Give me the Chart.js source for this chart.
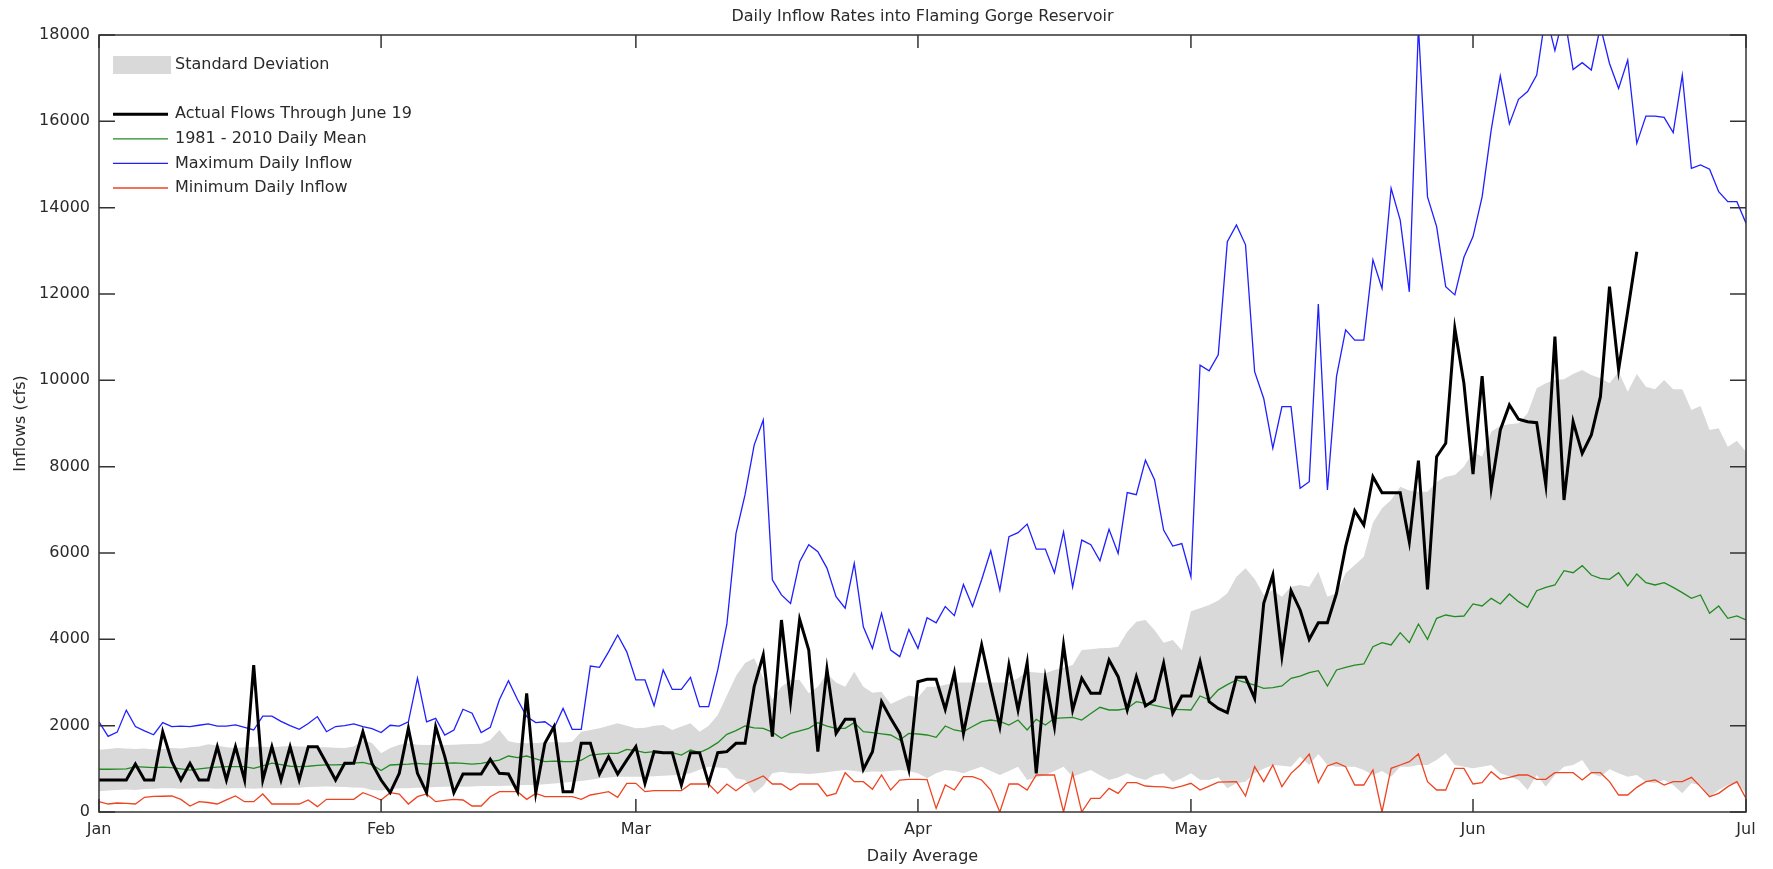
<!DOCTYPE html>
<html>
<head>
<title>Daily Inflow Rates into Flaming Gorge Reservoir</title>
<script src="https://cdn.jsdelivr.net/npm/chart.js@4.4.1/dist/chart.umd.min.js"></script>
<style>
    html, body { margin: 0; padding: 0; background: #fff; }
    canvas { display: block; }
</style>
</head>
<body>
<canvas id="inflow" width="1773" height="869"></canvas>
<script>
// x axis: day of year counted from Jan 1, one tick per month start
const monthStarts = [0, 31, 59, 90, 120, 151, 181];
const monthNames = ['Jan', 'Feb', 'Mar', 'Apr', 'May', 'Jun', 'Jul'];

// Actual daily inflow (cfs), Jan 1 through June 19
const actualFlow = [
    741, 741, 741, 741, 1112, 741, 741, 1861, 1170, 741, 1127, 741, 741, 1513, 741, 1513, 741, 3405, 741, 1513, 741, 1513, 741, 1513, 1513, 1130, 741, 1127, 1127, 1861, 1127,
    741, 448, 896, 1938, 896, 448, 1977, 1282, 448, 880, 880, 880, 1220, 896, 880, 471, 2749, 448, 1591, 1977, 471, 471, 1591, 1591, 880, 1282, 880, 1200,
    1513, 664, 1398, 1375, 1375, 625, 1375, 1375, 664, 1375, 1398, 1591, 1591, 2903, 3637, 1745, 4448, 2556, 4463, 3753, 1398, 3305, 1822, 2147, 2147, 988, 1398, 2556, 2170, 1822, 988,
    3019, 3073, 3073, 2378, 3228, 1822, 2850, 3869, 2900, 1977, 3405, 2363, 3459, 896, 3097, 1977, 3869, 2363, 3097, 2749, 2749, 3521, 3135, 2363, 3135, 2456, 2595, 3444, 2286, 2687,
    2687, 3483, 2556, 2400, 2301, 3120, 3120, 2633, 4834, 5490, 3614, 5127, 4680, 4000, 4386, 4386, 5066, 6147, 6981, 6649, 7768, 7398, 7398, 7398, 6262, 8139, 5158, 8232, 8541, 11205, 9930,
    7830, 10100, 7498, 8850, 9430, 9100, 9040, 9020, 7575, 11012, 7228, 9042, 8309, 8734, 9622, 12170, 10250, 11600, 12981
];

// 1981 - 2010 daily mean
const dailyMean = [
    990, 990, 995, 1000, 1050, 1040, 1030, 1040, 1030, 1000, 970, 1000, 1020, 1040, 1050, 1050, 1050, 1010, 1070, 1130, 1100, 1060, 1050, 1060, 1080, 1090, 1090, 1100, 1130, 1150, 1100,
    960, 1089, 1100, 1110, 1127, 1110, 1127, 1127, 1140, 1127, 1110, 1127, 1166, 1200, 1297, 1260, 1297, 1230, 1166, 1180, 1170, 1166, 1200, 1320, 1340, 1359, 1360, 1452,
    1420, 1375, 1398, 1375, 1375, 1320, 1436, 1375, 1475, 1606, 1800, 1884, 1992, 1950, 1938, 1850, 1707, 1822, 1880, 1938, 2070, 1992, 1938, 1938, 2070, 1861, 1838, 1810, 1784, 1668, 1822,
    1807, 1784, 1730, 1992, 1900, 1861, 1980, 2093, 2131, 2100, 2015, 2131, 1900, 2147, 2015, 2170, 2180, 2193, 2131, 2280, 2425, 2363, 2363, 2400, 2556, 2517, 2470, 2425, 2378, 2370,
    2363, 2687, 2600, 2830, 2950, 3058, 3000, 2942, 2865, 2880, 2919, 3097, 3150, 3228, 3274, 2919, 3290, 3350, 3405, 3429, 3830, 3923, 3869, 4154, 3923, 4355, 4000, 4486, 4564, 4525, 4540,
    4819, 4772, 4950, 4819, 5050, 4873, 4741, 5127, 5205, 5259, 5591, 5544, 5707, 5490, 5413, 5390, 5544, 5236, 5514, 5313, 5259, 5313, 5205, 5081, 4950, 5027, 4602, 4772, 4486, 4541,
    4448
];

// Maximum daily inflow on record
const maxInflow = [
    2090, 1750, 1850, 2360, 1980, 1880, 1790, 2070, 1980, 1990, 1980, 2010, 2040, 1990, 1990, 2020, 1960, 1900, 2220, 2220, 2100, 2000, 1915, 2050, 2210, 1860, 1980, 2000, 2040, 1980, 1930,
    1840, 2010, 1990, 2090, 3100, 2090, 2170, 1780, 1900, 2380, 2290, 1840, 1960, 2600, 3040, 2600, 2210, 2070, 2090, 1940, 2400, 1915, 1915, 3380, 3350, 3710, 4100, 3710,
    3060, 3060, 2460, 3290, 2840, 2840, 3120, 2440, 2440, 3290, 4350, 6450, 7350, 8500, 9080, 5380, 5030, 4830, 5800, 6190, 6030, 5650, 4990, 4720, 5760, 4290, 3790, 4600, 3750, 3600, 4230,
    3790, 4500, 4380, 4760, 4550, 5270, 4760, 5380, 6050, 5140, 6380, 6470, 6670, 6090, 6090, 5540, 6490, 5210, 6300, 6190, 5820, 6550, 5990, 7400, 7350, 8150, 7700, 6530, 6160, 6220,
    5450, 10350, 10220, 10590, 13210, 13600, 13140, 10200, 9580, 8430, 9390, 9390, 7500, 7650, 11770, 7460, 10090, 11170, 10930, 10930, 12790, 12130, 14450, 13710, 12050, 18200, 14250, 13560, 12170, 11980, 12850,
    13330, 14250, 15800, 17050, 15940, 16510, 16690, 17070, 18500, 17640, 18500, 17200, 17360, 17190, 18200, 17340, 16760, 17420, 15490, 16120, 16120, 16090, 15740, 17070, 14910, 14990, 14890, 14370, 14140, 14140,
    13640
];

// Minimum daily inflow on record
const minInflow = [
    239, 185, 208, 200, 185, 340, 360, 365, 371, 293, 139, 239, 220, 185, 280, 371, 239, 239, 417, 185, 185, 185, 185, 278, 124, 293, 293, 293, 293, 448, 371,
    278, 448, 417, 185, 355, 417, 239, 270, 293, 278, 139, 139, 355, 471, 471, 471, 293, 432, 355, 355, 355, 355, 293, 394, 430, 471, 340, 664,
    664, 471, 494, 494, 494, 494, 649, 649, 649, 432, 649, 494, 649, 740, 834, 649, 649, 510, 649, 649, 649, 371, 432, 911, 703, 703, 525, 857, 510, 741, 757,
    757, 750, 85, 625, 510, 819, 819, 741, 510, 0, 649, 649, 510, 857, 857, 857, 0, 896, 0, 317, 317, 548, 432, 680, 680, 602, 590, 580, 548, 600,
    664, 510, 600, 690, 700, 703, 371, 1050, 703, 1089, 587, 896, 1089, 1344, 680, 1066, 1143, 1050, 625, 625, 973, 0, 1012, 1089, 1166, 1344, 703, 510, 510, 1012, 1012,
    649, 680, 934, 757, 803, 857, 857, 757, 757, 911, 911, 911, 741, 911, 911, 703, 394, 394, 571, 703, 741, 625, 703, 703, 803, 587, 355, 432, 587, 703,
    317
];

// Mean plus / minus one standard deviation
const sdUpper = [
    1440, 1460, 1480, 1470, 1460, 1470, 1450, 1460, 1480, 1470, 1500, 1520, 1570, 1540, 1500, 1480, 1500, 1510, 1510, 1500, 1520, 1530, 1520, 1510, 1500, 1500, 1490, 1480, 1520, 1660, 1600,
    1360, 1480, 1560, 1590, 1560, 1550, 1560, 1550, 1560, 1570, 1575, 1580, 1670, 1900, 1640, 1600, 1590, 1600, 1610, 1620, 1610, 1630, 1860, 1900, 1938, 2000, 2054, 2000,
    1940, 1950, 2000, 2015, 1900, 1980, 2054, 1861, 2000, 2250, 2700, 3150, 3450, 3560, 3100, 2600, 2900, 3058, 3058, 2750, 2900, 3200, 3000, 2900, 3250, 2900, 2760, 2788, 2500, 2600, 2700,
    2650, 2900, 2903, 2950, 2996, 3000, 3000, 3000, 3000, 3000, 3000, 3100, 3251, 3230, 3212, 3290, 3350, 3405, 3753, 3770, 3791, 3800, 3830, 4178, 4409, 4448, 4216, 3923, 3985, 3750,
    4650, 4718, 4795, 4900, 5066, 5452, 5645, 5400, 5027, 5143, 4988, 5220, 5259, 5220, 5568, 4988, 5066, 5529, 5722, 5915, 6700, 7035, 7228, 7537, 7450, 7420, 7420, 7652, 7768, 7807, 8000,
    8347, 8232, 8811, 8950, 8980, 9004, 9236, 9815, 9930, 10008, 10023, 10147, 10240, 10124, 10046, 9930, 10201, 9737, 10147, 9853, 9791, 10008, 9791, 9791, 9313, 9405, 8849, 8888, 8463, 8602,
    8347
];
const sdLower = [
    480, 500, 510, 520, 510, 530, 540, 550, 550, 540, 545, 548, 548, 540, 545, 550, 548, 540, 548, 548, 550, 560, 560, 580, 587, 590, 587, 580, 570, 560, 510,
    500, 530, 548, 548, 560, 570, 580, 587, 590, 587, 590, 600, 602, 600, 610, 620, 625, 625, 640, 660, 680, 703, 720, 750, 780, 800, 819, 819,
    819, 819, 830, 840, 850, 857, 900, 980, 1050, 1030, 1012, 780, 741, 432, 600, 900, 934, 900, 900, 880, 900, 920, 950, 973, 950, 920, 940, 934, 950, 973, 950,
    900, 780, 900, 973, 950, 896, 980, 1050, 950, 857, 950, 1050, 741, 800, 857, 950, 1050, 819, 900, 973, 850, 741, 800, 896, 800, 741, 850, 896, 703, 780,
    896, 750, 741, 803, 548, 664, 700, 896, 1000, 1089, 1070, 1050, 1282, 1089, 1344, 1089, 1050, 1050, 1050, 973, 857, 950, 819, 1050, 1050, 1089, 1089, 1205, 1359, 1089, 1050,
    1012, 1050, 1089, 896, 820, 741, 510, 857, 587, 857, 1050, 1089, 1205, 896, 819, 988, 896, 819, 857, 703, 664, 741, 625, 432, 664, 625, 355, 510, 625, 664,
    432
];

const FONT = 'DejaVu Sans';
const TEXT = '#2a2a2a';
Chart.defaults.font.family = FONT;
Chart.defaults.font.size = 16;
Chart.defaults.color = TEXT;

// turn a day-indexed array into {x, y} points
const byDay = arr => arr.map((v, i) => ({ x: i, y: v }));

const lineSet = (label, data, color, width, order) => ({
    label: label,
    data: byDay(data),
    borderColor: color,
    backgroundColor: color,
    borderWidth: width,
    pointRadius: 0,
    tension: 0,
    fill: false,
    order: order
});

// box around the plot with inward tick marks on all four sides, plus the title
const framePlugin = {
    id: 'frame',
    afterDatasetsDraw(chart) {
        const { ctx, chartArea: a, scales: { x, y } } = chart;
        ctx.save();
        ctx.strokeStyle = '#333';
        ctx.lineWidth = 1.5;
        ctx.beginPath();
        x.ticks.forEach(t => {
            const px = x.getPixelForValue(t.value);
            ctx.moveTo(px, a.top); ctx.lineTo(px, a.top + 13);
            ctx.moveTo(px, a.bottom); ctx.lineTo(px, a.bottom - 13);
        });
        y.ticks.forEach(t => {
            const py = y.getPixelForValue(t.value);
            ctx.moveTo(a.left, py); ctx.lineTo(a.left + 16, py);
            ctx.moveTo(a.right, py); ctx.lineTo(a.right - 16, py);
        });
        ctx.stroke();
        ctx.strokeRect(a.left, a.top, a.right - a.left, a.bottom - a.top);

        ctx.fillStyle = TEXT;
        ctx.font = '16px "' + FONT + '"';
        ctx.textAlign = 'center';
        ctx.textBaseline = 'middle';
        ctx.fillText('Daily Inflow Rates into Flaming Gorge Reservoir', (a.left + a.right) / 2, 17);
        ctx.restore();
    }
};

// legend in the upper left corner; the second row is left empty
const legendPlugin = {
    id: 'cornerLegend',
    afterDraw(chart) {
        const { ctx, chartArea: a } = chart;
        const sets = chart.data.datasets;
        const rows = [
            { set: sets[4], box: true },
            null,
            { set: sets[0] },
            { set: sets[1] },
            { set: sets[2] },
            { set: sets[3] }
        ];
        const x0 = a.left + 14, swatch = 55, textX = a.left + 76;
        ctx.save();
        ctx.font = '16px "' + FONT + '"';
        ctx.textBaseline = 'middle';
        ctx.textAlign = 'left';
        rows.forEach((row, i) => {
            if (!row) return;
            const cy = a.top + 30 + i * 24.6;
            if (row.box) {
                ctx.fillStyle = row.set.backgroundColor;
                ctx.fillRect(x0, cy - 9, swatch + 3, 18);
            } else {
                ctx.strokeStyle = row.set.borderColor;
                ctx.lineWidth = row.set.borderWidth;
                ctx.beginPath();
                ctx.moveTo(x0, cy);
                ctx.lineTo(x0 + swatch, cy);
                ctx.stroke();
            }
            ctx.fillStyle = TEXT;
            ctx.fillText(row.set.label, textX, cy);
        });
        ctx.restore();
    }
};

new Chart(document.getElementById('inflow'), {
    type: 'line',
    data: {
        datasets: [
            lineSet('Actual Flows Through June 19', actualFlow, '#000000', 3, 0),
            lineSet('1981 - 2010 Daily Mean', dailyMean, '#228b22', 1.3, 1),
            lineSet('Maximum Daily Inflow', maxInflow, '#1f1fff', 1.3, 2),
            lineSet('Minimum Daily Inflow', minInflow, '#ee4422', 1.3, 3),
            {
                label: 'Standard Deviation',
                data: byDay(sdUpper),
                borderColor: 'rgba(0,0,0,0)',
                backgroundColor: '#d9d9d9',
                borderWidth: 0,
                pointRadius: 0,
                tension: 0,
                fill: '+1',
                order: 4
            },
            {
                label: 'sd lower',
                data: byDay(sdLower),
                borderColor: 'rgba(0,0,0,0)',
                borderWidth: 0,
                pointRadius: 0,
                tension: 0,
                fill: false,
                order: 5
            }
        ]
    },
    options: {
        responsive: false,
        animation: false,
        events: [],
        layout: { padding: { left: 0, right: 27, top: 35, bottom: 0 } },
        plugins: {
            legend: { display: false },
            tooltip: { enabled: false },
            title: { display: false }
        },
        scales: {
            x: {
                type: 'linear',
                min: 0,
                max: 181,
                afterBuildTicks: s => { s.ticks = monthStarts.map(v => ({ value: v })); },
                afterFit: s => { s.height = 57; s.paddingLeft = 0; s.paddingRight = 0; },
                ticks: {
                    autoSkip: false,
                    maxRotation: 0,
                    padding: 8,
                    callback: (v, i) => monthNames[i]
                },
                grid: { display: false, drawTicks: false },
                border: { display: false },
                title: { display: true, text: 'Daily Average', padding: { top: 0, bottom: 3 } }
            },
            y: {
                min: 0,
                max: 18000,
                afterFit: s => { s.width = 99; s.paddingTop = 0; s.paddingBottom = 0; },
                ticks: { stepSize: 2000, padding: 9, callback: v => String(v) },
                grid: { display: false, drawTicks: false },
                border: { display: false },
                title: { display: true, text: 'Inflows (cfs)', padding: { top: 11, bottom: 0 } }
            }
        }
    },
    plugins: [framePlugin, legendPlugin]
});
</script>
</body>
</html>
